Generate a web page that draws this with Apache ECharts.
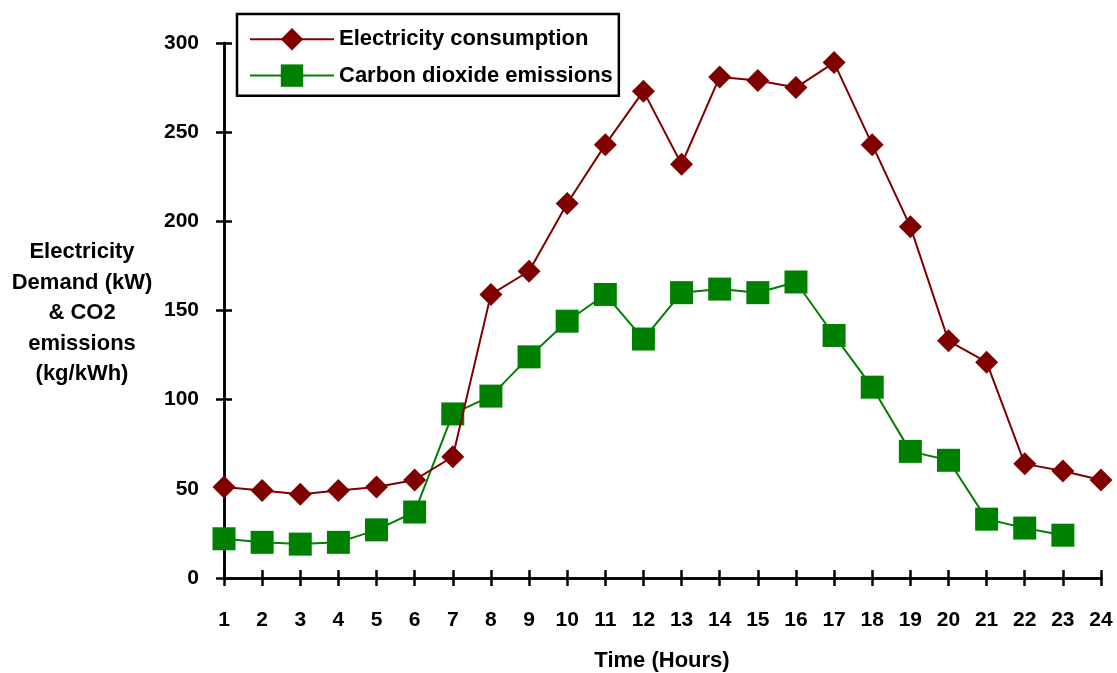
<!DOCTYPE html>
<html>
<head>
<meta charset="utf-8">
<script src="https://cdn.jsdelivr.net/npm/echarts@6/dist/echarts.min.js"></script>
<style>html,body{margin:0;padding:0;background:#fff;}#c{width:1117px;height:673px;}</style>
</head>
<body>
<div id="c"></div>
<script>
const hours = ['1','2','3','4','5','6','7','8','9','10','11','12','13','14','15','16','17','18','19','20','21','22','23','24'];
const electricity = [51, 49, 47, 49, 51, 55, 68, 159, 172, 210, 243, 273, 232, 281, 279, 275, 289, 243, 197, 133, 121, 64, 60, 55];
const co2 = [22, 20, 19, 20, 27, 37, 92, 102, 124, 144, 159, 134, 160, 162, 160, 166, 136, 107, 71, 66, 33, 28, 24, null];
const yTicks = {min: 0, max: 300, interval: 50};

const FONT = '"Liberation Sans", Arial, sans-serif';
const chart = echarts.init(document.getElementById('c'));
const axisLineStyle = {color: '#000', width: 2.5};
const tickStyle = {color: '#000', width: 2.5};
const gridBox = {left: 224, right: 16, top: 43, bottom: 95, containLabel: false};
chart.setOption({
  animation: false,
  backgroundColor: '#fff',
  grid: [Object.assign({}, gridBox), Object.assign({}, gridBox)],
  legend: {
    orient: 'vertical', left: 237, top: 14,
    backgroundColor: '#fff', borderColor: '#000', borderWidth: 2.5, borderRadius: 0,
    padding: [14, 6, 9, 12], itemWidth: 84, itemHeight: 28, itemGap: 14,
    textStyle: {fontFamily: FONT, fontWeight: 'bold', fontSize: 22, color: '#000'},
    data: ['Electricity consumption', 'Carbon dioxide emissions']
  },
  xAxis: [{
    type: 'category', data: hours, boundaryGap: false, gridIndex: 0,
    axisLine: {lineStyle: axisLineStyle},
    axisTick: {show: true, inside: false, length: 8, lineStyle: tickStyle},
    axisLabel: {margin: 32, fontFamily: FONT, fontWeight: 'bold', fontSize: 21, color: '#000'},
    splitLine: {show: false}
  }, {
    type: 'category', data: hours, boundaryGap: false, gridIndex: 1, position: 'bottom',
    axisLine: {show: true, lineStyle: {color: '#000', width: 2.5}},
    axisTick: {show: true, inside: true, length: 8, lineStyle: tickStyle},
    axisLabel: {show: false}, splitLine: {show: false}
  }],
  yAxis: [{
    type: 'value', min: yTicks.min, max: yTicks.max, interval: yTicks.interval, gridIndex: 0,
    axisLine: {show: true, lineStyle: axisLineStyle},
    axisTick: {show: true, inside: false, length: 8, lineStyle: tickStyle},
    axisLabel: {margin: 25, fontFamily: FONT, fontWeight: 'bold', fontSize: 21, color: '#000'},
    splitLine: {show: false}
  }, {
    type: 'value', min: yTicks.min, max: yTicks.max, interval: yTicks.interval, gridIndex: 1, position: 'left',
    axisLine: {show: true, lineStyle: {color: '#000', width: 2.5}},
    axisTick: {show: true, inside: true, length: 8, lineStyle: tickStyle},
    axisLabel: {show: false}, splitLine: {show: false}
  }],
  graphic: [{
    type: 'text', x: 82, y: 237,
    style: {
      text: 'Electricity\nDemand (kW)\n& CO2\nemissions\n(kg/kWh)',
      align: 'center', verticalAlign: 'top',
      font: 'bold 22px ' + FONT, lineHeight: 30.5, fill: '#000'
    }
  }, {
    type: 'text', x: 662, y: 661,
    style: {text: 'Time (Hours)', align: 'center', verticalAlign: 'middle', font: 'bold 22px ' + FONT, fill: '#000'}
  }],
  series: [{
    name: 'Electricity consumption', type: 'line', data: electricity,
    xAxisIndex: 0, yAxisIndex: 0,
    symbol: 'diamond', symbolSize: 23,
    lineStyle: {color: '#800000', width: 2},
    itemStyle: {color: '#800000'}, z: 3
  }, {
    name: 'Carbon dioxide emissions', type: 'line', data: co2,
    xAxisIndex: 0, yAxisIndex: 0,
    symbol: 'rect', symbolSize: 23,
    lineStyle: {color: '#008000', width: 2},
    itemStyle: {color: '#008000'}, z: 2
  }, {
    name: 'tickHelper', type: 'line', data: [],
    xAxisIndex: 1, yAxisIndex: 1, silent: true, showSymbol: false
  }]
});
</script>
</body>
</html>
